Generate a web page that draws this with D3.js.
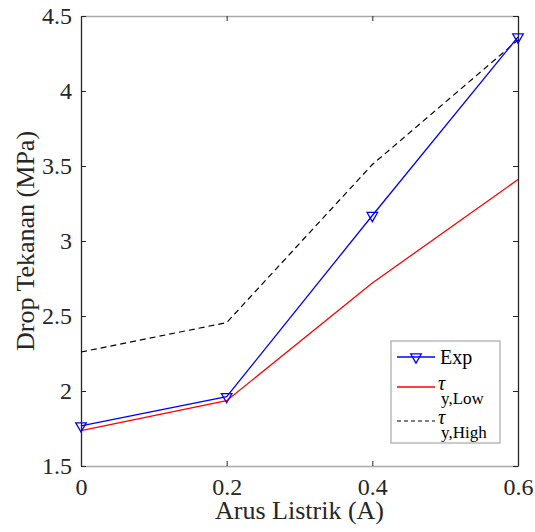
<!DOCTYPE html>
<html><head><meta charset="utf-8">
<script src="https://cdn.jsdelivr.net/npm/d3@7"></script>
<style>body{margin:0;background:#fff;} svg{display:block;} svg text{font-family:"Liberation Serif","Times New Roman",serif !important;}</style>
</head><body><svg id="c" width="535" height="532"></svg>
<script>
const current = [0, 0.2, 0.4, 0.6];
const expValues = [1.767, 1.962, 3.17, 4.36];
const lowValues = [1.736, 1.935, 2.72, 3.41];
const highValues = [2.26, 2.456, 3.51, 4.34];
const xTicks = [0, 0.2, 0.4, 0.6];
const yTicks = [1.5, 2, 2.5, 3, 3.5, 4, 4.5];
const xTickLabels = ["0", "0.2", "0.4", "0.6"];
const yTickLabels = ["1.5", "2", "2.5", "3", "3.5", "4", "4.5"];

const svg = d3.select("#c");
const L = 81, R = 518, T = 16, B = 466;
const x = d3.scaleLinear().domain([0, 0.6]).range([L, R]);
const y = d3.scaleLinear().domain([1.5, 4.5]).range([B, T]);

const gx = svg.append("g").attr("transform", `translate(0,${B})`)
  .call(d3.axisBottom(x).tickValues(xTicks).tickFormat((d,i)=>xTickLabels[i]).tickSizeInner(-5).tickSizeOuter(0).tickPadding(12));
gx.attr("font-family", null);
gx.select(".domain").attr("stroke", "#a8a8a8").attr("stroke-width", 1.3);
gx.selectAll(".tick line").attr("stroke", "#262626");
gx.selectAll("text").attr("font-size", 24).attr("fill", "#262626");
const gxt = svg.append("g").attr("transform", `translate(0,${T})`)
  .call(d3.axisTop(x).tickValues(xTicks).tickFormat("").tickSizeInner(-5).tickSizeOuter(0));
gxt.select(".domain").attr("stroke", "#a8a8a8").attr("stroke-width", 1.3);
gxt.selectAll(".tick line").attr("stroke", "#262626");
const gy = svg.append("g").attr("transform", `translate(${L},0)`)
  .call(d3.axisLeft(y).tickValues(yTicks).tickFormat((d,i)=>yTickLabels[i]).tickSizeInner(-5).tickSizeOuter(0).tickPadding(9));
gy.attr("font-family", null);
gy.select(".domain").attr("stroke", "#262626").attr("stroke-width", 1.3);
gy.selectAll(".tick line").attr("stroke", "#262626");
gy.selectAll("text").attr("font-size", 24).attr("fill", "#262626");
const gyr = svg.append("g").attr("transform", `translate(${R},0)`)
  .call(d3.axisRight(y).tickValues(yTicks).tickFormat("").tickSizeInner(-5).tickSizeOuter(0));
gyr.select(".domain").attr("stroke", "#262626").attr("stroke-width", 1.3);
gyr.selectAll(".tick line").attr("stroke", "#262626");

svg.append("text").attr("x", (L+R)/2).attr("y", 519).attr("text-anchor", "middle")
  .attr("font-size", 26).attr("fill", "#262626").text("Arus Listrik (A)");
svg.append("text").attr("transform", `translate(34,${(T+B)/2}) rotate(-90)`).attr("text-anchor", "middle")
  .attr("font-size", 26).attr("fill", "#262626").text("Drop Tekanan (MPa)");

const line = d3.line().x((d,i)=>x(current[i])).y(d=>y(d));
svg.append("path").datum(highValues).attr("d", line).attr("fill", "none")
  .attr("stroke", "#000").attr("stroke-width", 1.2).attr("stroke-dasharray", "6,4");
svg.append("path").datum(lowValues).attr("d", line).attr("fill", "none")
  .attr("stroke", "#ff0000").attr("stroke-width", 1.3);
svg.append("path").datum(expValues).attr("d", line).attr("fill", "none")
  .attr("stroke", "#0000ff").attr("stroke-width", 1.3);
const tri = d3.symbol().type(d3.symbolTriangle).size(48);
svg.selectAll(".mk").data(expValues).enter().append("path")
  .attr("transform", (d,i)=>`translate(${x(current[i])},${y(d)}) rotate(180)`)
  .attr("d", tri).attr("fill", "none").attr("stroke", "#0000ff").attr("stroke-width", 1.3);

const lg = svg.append("g");
lg.append("rect").attr("x", 391).attr("y", 341).attr("width", 109).attr("height", 102)
  .attr("fill", "#fff").attr("stroke", "#a8a8a8").attr("stroke-width", 1.2);
lg.append("line").attr("x1", 397).attr("x2", 435).attr("y1", 357).attr("y2", 357).attr("stroke", "#0000ff").attr("stroke-width", 1.3);
lg.append("path").attr("transform", "translate(416,357) rotate(180)").attr("d", tri).attr("fill", "none").attr("stroke", "#0000ff").attr("stroke-width", 1.3);
lg.append("text").attr("x", 440).attr("y", 364).attr("font-size", 20).attr("fill", "#000").text("Exp");
lg.append("line").attr("x1", 397).attr("x2", 435).attr("y1", 387).attr("y2", 387).attr("stroke", "#ff0000").attr("stroke-width", 1.5);
lg.append("text").attr("x", 438).attr("y", 390).attr("font-size", 20).attr("font-style", "italic").attr("fill", "#000").text("τ");
lg.append("text").attr("x", 441).attr("y", 404).attr("font-size", 17).attr("fill", "#000").text("y,Low");
lg.append("line").attr("x1", 397).attr("x2", 435).attr("y1", 421).attr("y2", 421).attr("stroke", "#000").attr("stroke-width", 1.2).attr("stroke-dasharray", "4,3");
lg.append("text").attr("x", 438).attr("y", 424).attr("font-size", 20).attr("font-style", "italic").attr("fill", "#000").text("τ");
lg.append("text").attr("x", 441).attr("y", 438).attr("font-size", 17).attr("fill", "#000").text("y,High");
</script></body></html>
